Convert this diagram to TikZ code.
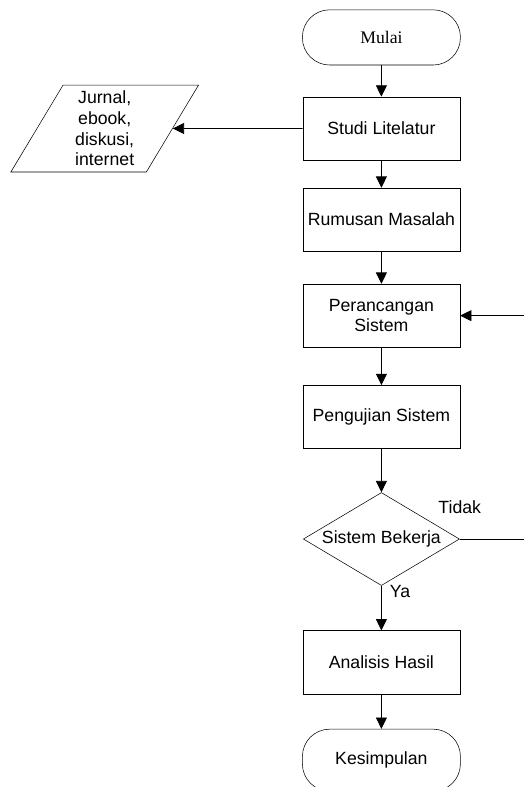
\documentclass[tikz,border=0pt]{standalone}
\usepackage{fontspec}
\setmainfont{Liberation Sans}
\newfontfamily\timesfont{Liberation Serif}
\usepackage{tikz}
\usetikzlibrary{shapes.geometric, arrows.meta}

\begin{document}
\begin{tikzpicture}[node distance=2.41cm, font=\fontsize{13.3}{15.5}\selectfont]
    \tikzstyle{startstop} = [rectangle, rounded corners=0.72cm, minimum width=4.18cm, minimum height=1.46cm, text centered, draw=black]
    \tikzstyle{process} = [rectangle, minimum width=4.15cm, minimum height=1.67cm, text centered, align=center, draw=black]
    \tikzstyle{decision} = [diamond, aspect=1.68, inner sep=0pt, minimum width=4.13cm, minimum height=2.46cm, text centered, draw=black]
    \tikzstyle{io} = [trapezium, trapezium left angle=63.7, trapezium right angle=116.3, trapezium stretches=true, inner sep=0pt, minimum width=4.97cm, minimum height=2.30cm, text centered, align=center, draw=black]
    \tikzstyle{arrow} = [line width=0.6pt, -{Triangle[width=0.29cm,length=0.3cm]}]

    \useasboundingbox (0,0) rectangle (13.86,-20.82);
    \clip (0,0) rectangle (13.86,-20.82);

    \node (mulai) [startstop] at (10.09,-0.99) {\timesfont Mulai};
    \node (studi) [process, below of=mulai] {Studi Litelatur};
    \node (sumber) [io, left of=studi, xshift=-4.91cm] {Jurnal,\\ebook,\\diskusi,\\internet};
    \node (rumusan) [process, below of=studi] {Rumusan Masalah};
    \node (rancang) [process, below of=rumusan, yshift=-0.13cm] {Perancangan\\Sistem};
    \node (uji) [process, below of=rancang, yshift=-0.27cm] {Pengujian Sistem};
    \node (bekerja) [decision, below of=uji, yshift=-0.82cm] {Sistem Bekerja};
    \node (analisis) [process, below of=bekerja, yshift=-0.85cm] {Analisis Hasil};
    \node (selesai) [startstop, below of=analisis, yshift=-0.18cm, minimum height=1.64cm] {Kesimpulan};

    \node (tidak) at ([yshift=0.85cm]bekerja.east) {Tidak};
    \node (ya) at ([xshift=0.49cm,yshift=-0.16cm]bekerja.south) {Ya};

    \coordinate (balik) at ([xshift=1.8cm]rancang.east);
    \coordinate (keluar) at ([xshift=1.8cm]bekerja.east);

    \draw [arrow] (mulai) -- (studi);
    \draw [arrow] (studi) -- (sumber);
    \draw [arrow] (studi) -- (rumusan);
    \draw [arrow] (rumusan) -- (rancang);
    \draw [arrow] (balik) -- (rancang);
    \draw [arrow] (rancang) -- (uji);
    \draw [arrow] (uji) -- (bekerja);
    \draw [line width=0.6pt] (bekerja) -- (keluar);
    \draw [arrow] (bekerja) -- (analisis);
    \draw [arrow] (analisis) -- (selesai);
\end{tikzpicture}
\end{document}
